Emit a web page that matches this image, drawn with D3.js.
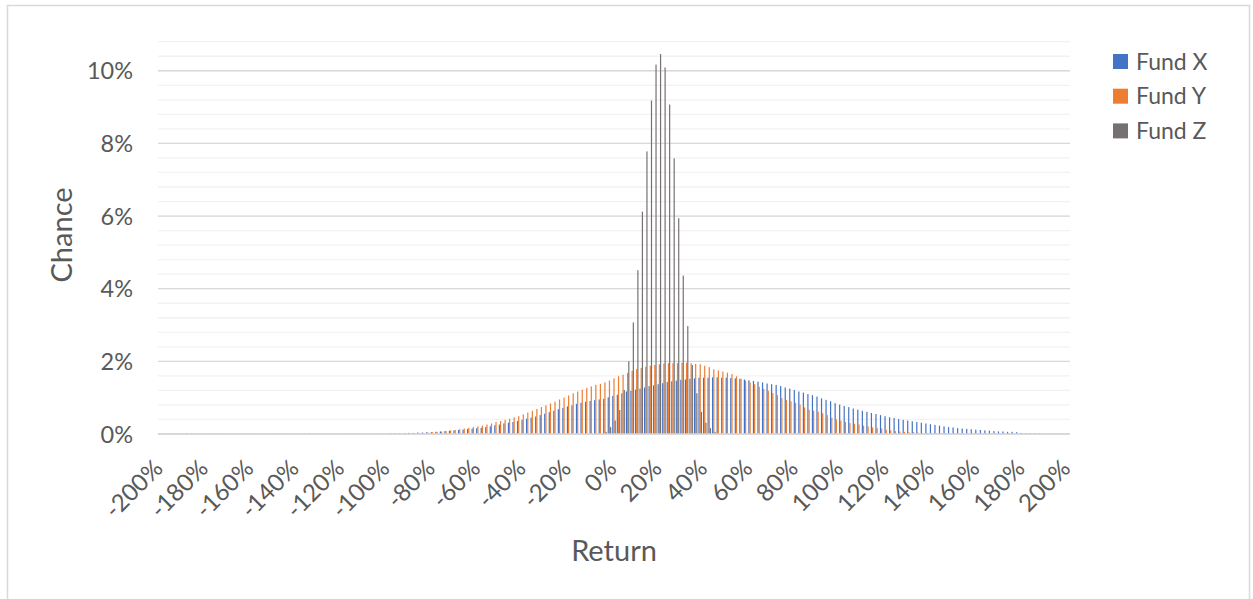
<!DOCTYPE html>
<html>
<head>
<meta charset="utf-8">
<script src="https://cdn.jsdelivr.net/npm/d3@7"></script>
<style>
  html, body { margin: 0; padding: 0; background: #fff; }
  svg { display: block; }
  text { font-family: Lato, "Open Sans", sans-serif; fill: #595959; }
</style>
</head>
<body>
<svg id="chart" width="1253" height="599"></svg>
<script>
// ---------- DATA ----------
const categories = d3.range(-200, 201, 2); // return in %, one category every 2%
const seriesNames = ["Fund X", "Fund Y", "Fund Z"];
const seriesColors = ["#4472C4", "#ED7D31", "#767171"];

// Fund X chance (%) for each category -200% .. 200%
const fundX = [
  0.01,0.01,0.01,0.01,0.01,0.01,0.01,0.01,0.01,0.01, 0.01,0.01,0.01,0.01,0.01,0.01,0.01,0.01,0.01,0.01,
  0.01,0.01,0.01,0.01,0.01,0.01,0.01,0.01,0.01,0.01, 0.01,0.01,0.01,0.01,0.01,0.01,0.01,0.01,0.01,0.01,
  0.01,0.01,0.01,0.01,0.01,0.01,0.01,0.01,0.01,0.01, 0.01,
  0.02,0.02,0.02,0.02,0.03,0.03,0.04,0.04,0.05,0.05,
  0.06,0.07,0.08,0.09,0.10,0.11,0.12,0.14,0.15,0.16,
  0.17,0.19,0.21,0.24,0.26,0.29,0.31,0.33,0.36,0.39,
  0.42,0.45,0.48,0.52,0.56,0.60,0.64,0.68,0.72,0.76,
  0.79,0.83,0.86,0.89,0.91,0.93,0.95,0.97,1.01,1.05,
  1.08,1.12,1.17,1.19,1.22,1.25,1.28,1.32,1.34,1.37,
  1.40,1.43,1.45,1.47,1.49,1.50,1.52,1.53,1.55,1.55,
  1.55,1.56,1.56,1.55,1.55,1.54,1.53,1.52,1.50,1.48,
  1.46,1.44,1.42,1.39,1.37,1.35,1.32,1.28,1.25,1.21,
  1.17,1.14,1.10,1.07,1.03,0.98,0.94,0.90,0.85,0.81,
  0.77,0.74,0.70,0.67,0.64,0.61,0.58,0.55,0.52,0.49,
  0.46,0.44,0.41,0.39,0.37,0.35,0.33,0.31,0.29,0.27,
  0.25,0.23,0.21,0.19,0.18,0.16,0.15,0.14,0.13,0.12,
  0.11,0.10,0.09,0.08,0.07,0.07,0.06,0.06,0.05,0.03,
  0.02,0.02,0.02,0.02,0.01,0.01,0.01,0.01,0.01,0.01
];

// Fund Y chance (%) for each category -200% .. 200%
const fundY = [
  0.01,0.01,0.01,0.01,0.01,0.01,0.01,0.01,0.01,0.01, 0.01,0.01,0.01,0.01,0.01,0.01,0.01,0.01,0.01,0.01,
  0.01,0.01,0.01,0.01,0.01,0.01,0.01,0.01,0.01,0.01, 0.01,0.01,0.01,0.01,0.01,0.01,0.01,0.01,0.01,0.01,
  0.01,0.01,0.01,0.01,0.01,0.01,0.01,0.01,0.01,0.01, 0.01,
  0.01,0.01,0.01,0.02,0.02,0.02,0.03,0.03,0.04,0.05,
  0.06,0.07,0.08,0.10,0.11,0.13,0.15,0.17,0.19,0.21,
  0.23,0.26,0.29,0.33,0.36,0.39,0.42,0.46,0.49,0.54,
  0.59,0.64,0.69,0.74,0.79,0.84,0.89,0.95,1.00,1.06,
  1.12,1.17,1.22,1.27,1.31,1.35,1.38,1.42,1.47,1.53,
  1.59,1.63,1.68,1.74,1.79,1.82,1.85,1.88,1.90,1.92,
  1.94,1.95,1.95,1.95,1.96,1.96,1.95,1.93,1.92,1.88,
  1.84,1.78,1.75,1.72,1.69,1.65,1.59,1.52,1.47,1.42,
  1.37,1.30,1.24,1.19,1.13,1.07,0.99,0.94,0.90,0.86,
  0.81,0.73,0.67,0.64,0.61,0.57,0.52,0.45,0.40,0.37,
  0.33,0.30,0.28,0.26,0.23,0.21,0.18,0.17,0.15,0.12,
  0.10,0.08,0.07,0.06,0.05,0.05,0.04,0.03,0.03,0.03,
  0.02,0.02,0.02,0.02,0.02,0.01,0.01,0.01,0.01,0.01,
  0.01,0.01,0.01,0.01,0.01,0.01,0.01,0.01,0.01,0.01,
  0.01,0.01,0.01,0.01,0.01,0.01,0.01,0.01,0.01,0.01
];

// Fund Z chance (%) for each category -200% .. 200%
const fundZ = [
  0,0,0,0,0,0,0,0,0,0, 0,0,0,0,0,0,0,0,0,0,
  0,0,0,0,0,0,0,0,0,0, 0,0,0,0,0,0,0,0,0,0,
  0,0,0,0,0,0,0,0,0,0, 0,0,0,0,0,0,0,0,0,0,
  0,0,0,0,0,0,0,0,0,0, 0,0,0,0,0,0,0,0,0,0,
  0,0,0,0,0,0,0,0,0,0, 0,0,0,0,0,0,0,0,
  0.06,0.19,0.37,0.66,1.21,2.00,3.07,4.51,6.12,7.78,
  9.18,10.17,10.46,10.09,9.07,7.59,5.94,4.36,2.97,1.90,
  1.12,0.61,0.31,0.16,0.06,
  0,0,0,0,0,0,0,0,0,0, 0,0,0,0,0,0,0,0,0,0,
  0,0,0,0,0,0,0,0,0,0, 0,0,0,0,0,0,0,0,0,0,
  0,0,0,0,0,0,0,0,0,0, 0,0,0,0,0,0,0,0,0,0,
  0,0,0,0,0,0,0,0,0,0, 0,0,0,0,0,0,0,0
];

const yTickValues = [0, 0.02, 0.04, 0.06, 0.08, 0.10];
const yTickLabels = ["0%", "2%", "4%", "6%", "8%", "10%"];
const xTickLabels = ["-200%","-180%","-160%","-140%","-120%","-100%","-80%","-60%","-40%","-20%",
  "0%","20%","40%","60%","80%","100%","120%","140%","160%","180%","200%"];
const xTitle = "Return";
const yTitle = "Chance";

// ---------- CHART ----------
const svg = d3.select("#chart");
const plot = { left: 158, right: 1070, top: 41.7, bottom: 434 };

// chart border
svg.append("rect").attr("x", 7.5).attr("y", 5.5).attr("width", 1242).attr("height", 620)
  .attr("fill", "#fff").attr("stroke", "#D9D9D9").attr("stroke-width", 1.5);

const x = d3.scaleBand().domain(categories).range([plot.left, plot.right]).padding(0);
const xSub = d3.scaleBand().domain(seriesNames).range([0, x.bandwidth()])
  .paddingInner(0).paddingOuter(0.4);
const y = d3.scaleLinear().domain([0, 0.108]).range([plot.bottom, plot.top]);

// minor gridlines
const minor = d3.range(0, 0.1081, 0.004);
svg.append("g").selectAll("line").data(minor).join("line")
  .attr("x1", plot.left).attr("x2", plot.right)
  .attr("y1", d => y(d)).attr("y2", d => y(d))
  .attr("stroke", "#F2F2F2").attr("stroke-width", 1.3);
// major gridlines
svg.append("g").selectAll("line").data(yTickValues).join("line")
  .attr("x1", plot.left).attr("x2", plot.right)
  .attr("y1", d => y(d)).attr("y2", d => y(d))
  .attr("stroke", "#D9D9D9").attr("stroke-width", 1.3);

// bars
const seriesData = [fundX, fundY, fundZ];
seriesData.forEach((vals, si) => {
  svg.append("g").selectAll("rect").data(vals).join("rect")
    .attr("x", (d, i) => x(categories[i]) + xSub(seriesNames[si]))
    .attr("width", xSub.bandwidth())
    .attr("y", d => y(d / 100))
    .attr("height", d => y(0) - y(d / 100))
    .attr("fill", seriesColors[si]);
});

// baseline axis line
svg.append("line").attr("x1", plot.left).attr("x2", plot.right)
  .attr("y1", y(0)).attr("y2", y(0)).attr("stroke", "#D9D9D9").attr("stroke-width", 1.3);

// y axis labels
const yAxis = d3.axisLeft(y).tickValues(yTickValues)
  .tickFormat((d, i) => yTickLabels[i]).tickSize(0).tickPadding(0);
const gy = svg.append("g").attr("transform", `translate(133,0)`).call(yAxis);
gy.select(".domain").remove();
gy.selectAll("text").style("font-family", "Lato").attr("font-size", 23.5).attr("fill", "#595959").attr("dy", "0.35em");

// x axis labels
const labelCats = categories.filter((c, i) => i % 10 === 0);
const xAxis = d3.axisBottom(x).tickValues(labelCats)
  .tickFormat((d, i) => xTickLabels[i]).tickSize(0);
const gx = svg.append("g").attr("transform", `translate(0,${y(0)})`).call(xAxis);
gx.select(".domain").remove();
gx.selectAll(".tick text")
  .attr("y", 0).attr("dy", 0)
  .attr("text-anchor", "end")
  .attr("transform", "translate(4,36) rotate(-45)")
  .style("font-family", "Lato").attr("font-size", 24).attr("fill", "#595959");

// axis titles
svg.append("text").attr("x", 614).attr("y", 561).attr("text-anchor", "middle")
  .attr("font-size", 29).text(xTitle);
svg.append("text").attr("transform", "translate(72,235) rotate(-90)").attr("text-anchor", "middle")
  .attr("font-size", 29).text(yTitle);

// legend
const legend = svg.append("g").attr("transform", "translate(1113,54)");
seriesNames.forEach((name, i) => {
  const g = legend.append("g").attr("transform", `translate(0,${i * 34.7})`);
  g.append("rect").attr("width", 15).attr("height", 15).attr("fill", seriesColors[i]);
  g.append("text").attr("x", 23).attr("y", 7.5).attr("dy", "0.36em")
    .attr("font-size", 23).text(name);
});
</script>
</body>
</html>
